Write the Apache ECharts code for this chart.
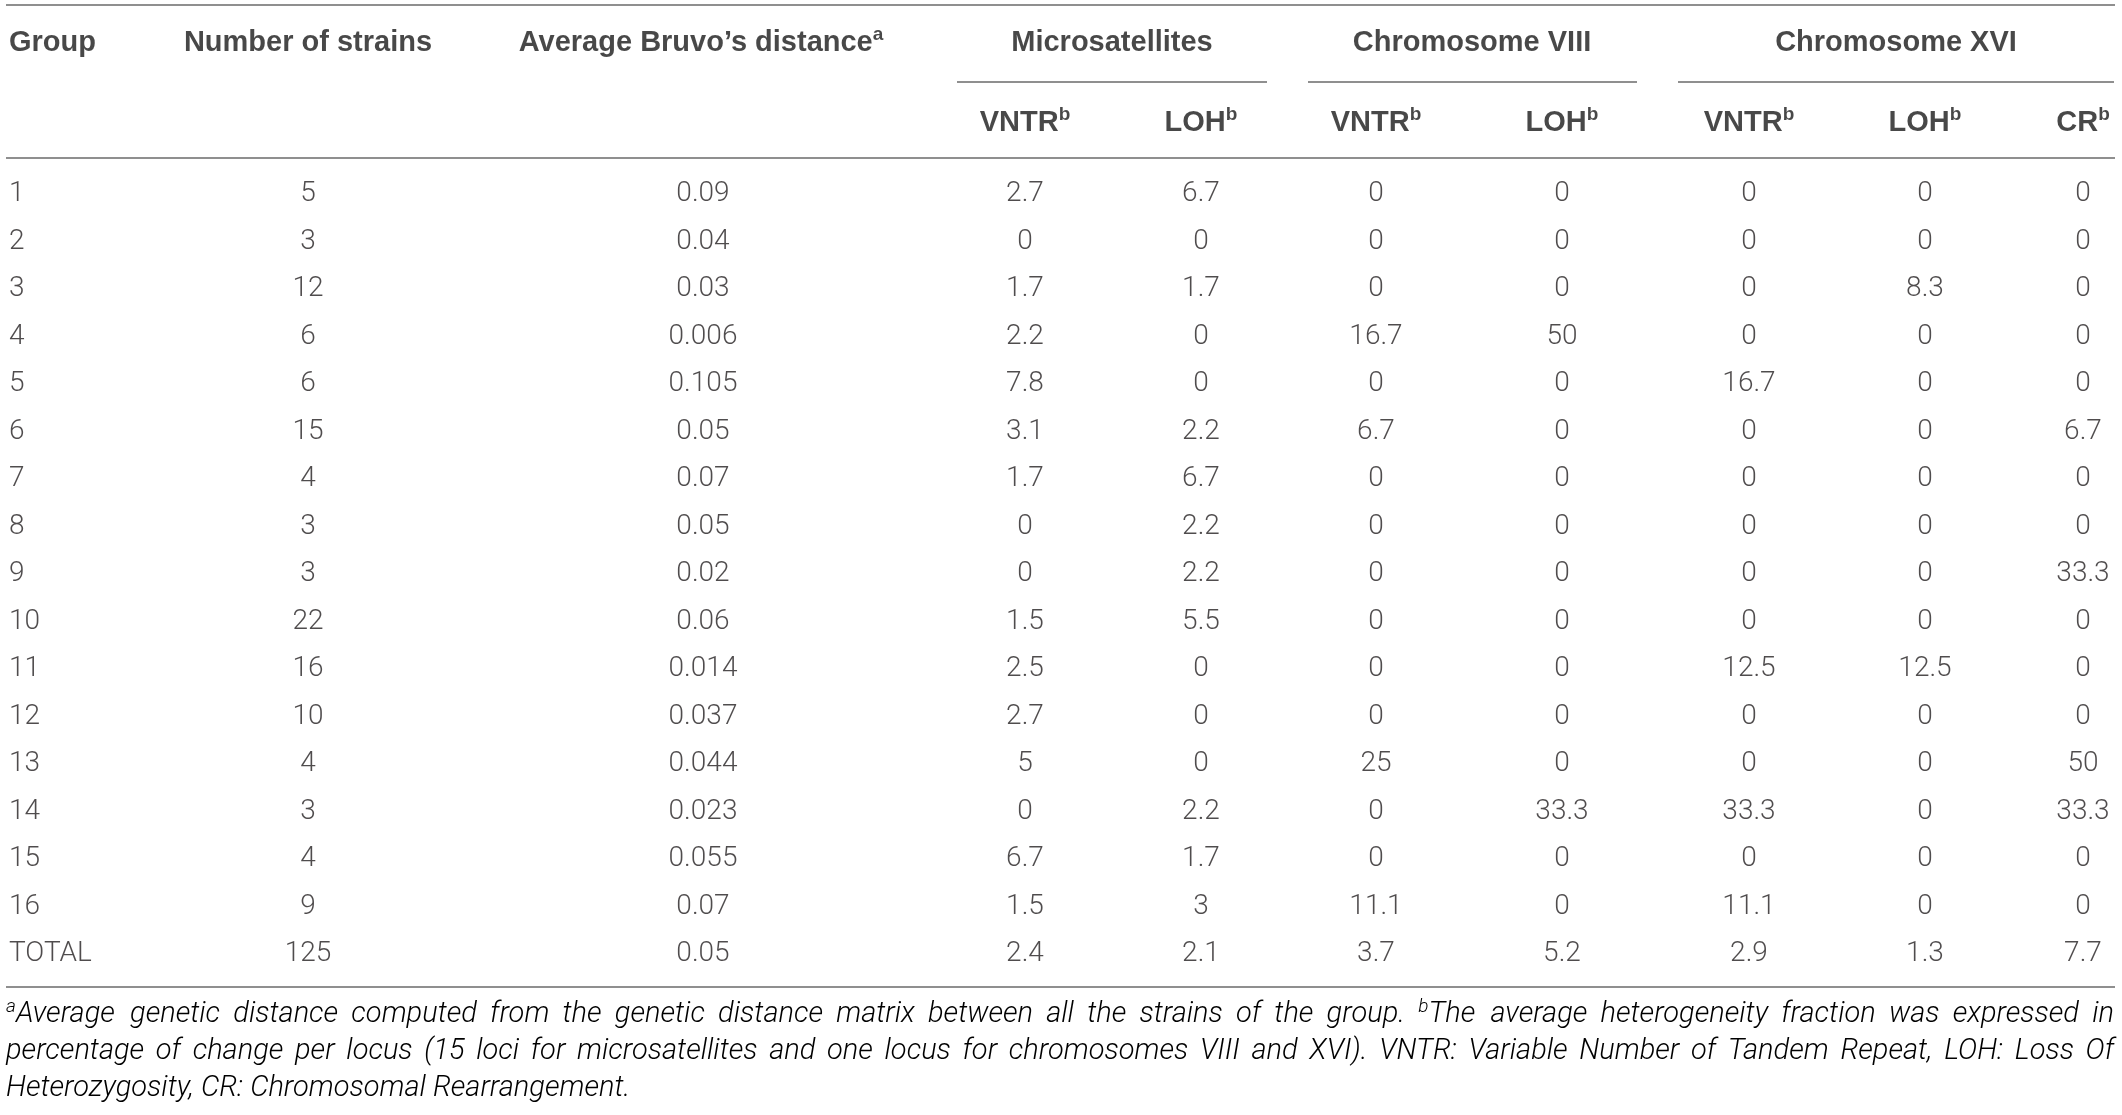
<!DOCTYPE html>
<html>
<head>
<meta charset="utf-8">
<script src="https://cdn.jsdelivr.net/npm/echarts@6/dist/echarts.min.js"></script>
<style>
html,body{margin:0;padding:0;background:#ffffff;}
#chart{width:2122px;height:1115px;}
</style>
</head>
<body>
<div id="chart"></div>
<script>
// ---------------- DATA ----------------
const groups    = ['1','2','3','4','5','6','7','8','9','10','11','12','13','14','15','16','TOTAL'];
const strains   = [5,3,12,6,6,15,4,3,3,22,16,10,4,3,4,9,125];
const bruvo     = [0.09,0.04,0.03,0.006,0.105,0.05,0.07,0.05,0.02,0.06,0.014,0.037,0.044,0.023,0.055,0.07,0.05];
const microVNTR = [2.7,0,1.7,2.2,7.8,3.1,1.7,0,0,1.5,2.5,2.7,5,0,6.7,1.5,2.4];
const microLOH  = [6.7,0,1.7,0,0,2.2,6.7,2.2,2.2,5.5,0,0,0,2.2,1.7,3,2.1];
const chr8VNTR  = [0,0,0,16.7,0,6.7,0,0,0,0,0,0,25,0,0,11.1,3.7];
const chr8LOH   = [0,0,0,50,0,0,0,0,0,0,0,0,0,33.3,0,0,5.2];
const chr16VNTR = [0,0,0,0,16.7,0,0,0,0,0,12.5,0,0,33.3,0,11.1,2.9];
const chr16LOH  = [0,0,8.3,0,0,0,0,0,0,0,12.5,0,0,0,0,0,1.3];
const chr16CR   = [0,0,0,0,0,6.7,0,0,33.3,0,0,0,50,33.3,0,0,7.7];

const headerTop = ['Group','Number of strains','Average Bruvo’s distance','Microsatellites','Chromosome VIII','Chromosome XVI'];
const headerTopSup = ['','','a','','',''];
const headerSub = ['VNTR','LOH','VNTR','LOH','VNTR','LOH','CR'];
const headerSubSup = ['b','b','b','b','b','b','b'];

const footLines = [
  [['a','Average'],'genetic','distance','computed','from','the','genetic','distance','matrix','between','all','the','strains','of','the','group.',['b','The'],'average','heterogeneity','fraction','was','expressed','in'],
  ['percentage','of','change','per','locus','(15','loci','for','microsatellites','and','one','locus','for','chromosomes','VIII','and','XVI).','VNTR:','Variable','Number','of','Tandem','Repeat,','LOH:','Loss','Of'],
  ['Heterozygosity,','CR:','Chromosomal','Rearrangement.']
];

// ---------------- LAYOUT ----------------
const W = 2122;
const colX = [9, 308, 703, 1025, 1201, 1376, 1562, 1749, 1925, 2083];
const topHeaderX = [9, 308, 701, 1112, 1472, 1896];
const subRules = [[957,1267],[1308,1637],[1678,2114]];
const rowTop = 170.5, rowH = 47.5;

const BODY_FONT = 'Roboto';
const HEAD_FONT = 'Liberation Sans';
const TXT = '#231f20';

const bodyCols = [groups, strains, bruvo, microVNTR, microLOH, chr8VNTR, chr8LOH, chr16VNTR, chr16LOH, chr16CR];

const hRich = {
  m: {fontFamily: HEAD_FONT, fontWeight: 'bold', fontSize: 29, color: '#1a1a1a', lineHeight: 36},
  s: {fontFamily: HEAD_FONT, fontWeight: 'bold', fontSize: 19, color: '#1a1a1a', lineHeight: 24, verticalAlign: 'top'}
};

const series = [];
bodyCols.forEach(function (col, c) {
  series.push({
    type: 'scatter', xAxisIndex: 0, yAxisIndex: 0, symbolSize: 1, silent: true,
    itemStyle: {color: 'rgba(0,0,0,0)'},
    data: col.map(function (v, i) { return {value: [colX[c], i], name: String(v)}; }),
    label: {
      show: true, position: 'inside', formatter: '{b}',
      align: c === 0 ? 'left' : 'center', verticalAlign: 'middle',
      fontFamily: BODY_FONT, fontWeight: 300, fontSize: 28, color: TXT
    }
  });
});
// header row 1
series.push({
  type: 'scatter', xAxisIndex: 1, yAxisIndex: 1, symbolSize: 1, silent: true,
  itemStyle: {color: 'rgba(0,0,0,0)'},
  data: headerTop.map(function (t, i) {
    return {value: [topHeaderX[i], 0], name: t,
      label: {align: i === 0 ? 'left' : 'center',
        formatter: '{m|' + t + '}' + (headerTopSup[i] ? '{s|' + headerTopSup[i] + '}' : '')}};
  }),
  label: {show: true, position: 'inside', verticalAlign: 'middle', rich: hRich}
});
// header row 2
series.push({
  type: 'scatter', xAxisIndex: 1, yAxisIndex: 1, symbolSize: 1, silent: true,
  itemStyle: {color: 'rgba(0,0,0,0)'},
  data: headerSub.map(function (t, i) {
    return {value: [colX[i + 3], 1], name: t,
      label: {formatter: '{m|' + t + '}{s|' + headerSubSup[i] + '}'}};
  }),
  label: {show: true, position: 'inside', align: 'center', verticalAlign: 'middle', rich: hRich}
});

// ---------------- rules & footnote (graphic) ----------------
const RULE = {stroke: '#8f8f8f', lineWidth: 2};
const graphics = [];
function hline(x1, x2, y) {
  graphics.push({type: 'line', silent: true, shape: {x1: x1, y1: y, x2: x2, y2: y}, style: RULE});
}
hline(6, 2115, 5);
subRules.forEach(function (r) { hline(r[0], r[1], 82); });
hline(6, 2115, 158);
hline(6, 2115, 987);

const FN_SIZE = 29, FN_SUP = 19;
const fnFont = 'italic 300 ' + FN_SIZE + 'px ' + BODY_FONT;
const fnSupFont = 'italic 300 ' + FN_SUP + 'px ' + BODY_FONT;
const ctx = document.createElement('canvas').getContext('2d');
function measure(txt, f) { ctx.font = f; return ctx.measureText(txt).width; }
const fnRich = {
  m: {fontFamily: BODY_FONT, fontStyle: 'italic', fontWeight: 300, fontSize: FN_SIZE, color: TXT, lineHeight: 34},
  s: {fontFamily: BODY_FONT, fontStyle: 'italic', fontWeight: 300, fontSize: FN_SUP, color: TXT, lineHeight: 22, verticalAlign: 'top'}
};
const fnY = [1015, 1052, 1089];
const fnLeft = 6, fnRight = 2114;
footLines.forEach(function (words, li) {
  const items = words.map(function (w) {
    if (Array.isArray(w)) {
      return {text: '{s|' + w[0] + '}{m|' + w[1] + '}', width: measure(w[0], fnSupFont) + 2 + measure(w[1], fnFont)};
    }
    return {text: '{m|' + w + '}', width: measure(w, fnFont)};
  });
  const total = items.reduce(function (a, b) { return a + b.width; }, 0);
  const space = measure(' ', fnFont);
  const justify = li < footLines.length - 1;
  let gap = justify ? (fnRight - fnLeft - total) / (items.length - 1) : space;
  if (gap < space * 0.6) gap = space * 0.6;
  let x = fnLeft;
  items.forEach(function (it) {
    graphics.push({type: 'text', silent: true, x: x, y: fnY[li],
      style: {text: it.text, rich: fnRich, align: 'left', verticalAlign: 'middle'}});
    x += it.width + gap;
  });
});

const chart = echarts.init(document.getElementById('chart'), null, {renderer: 'canvas'});
chart.setOption({
  animation: false,
  backgroundColor: '#ffffff',
  grid: [
    {left: 0, width: W, top: rowTop, height: rowH * groups.length},
    {left: 0, width: W, top: 3, height: 160}
  ],
  xAxis: [
    {type: 'value', gridIndex: 0, min: 0, max: W, show: false},
    {type: 'value', gridIndex: 1, min: 0, max: W, show: false}
  ],
  yAxis: [
    {type: 'category', gridIndex: 0, data: groups, inverse: true, show: false},
    {type: 'category', gridIndex: 1, data: ['top', 'sub'], inverse: true, show: false}
  ],
  series: series,
  graphic: graphics
});
</script>
</body>
</html>
